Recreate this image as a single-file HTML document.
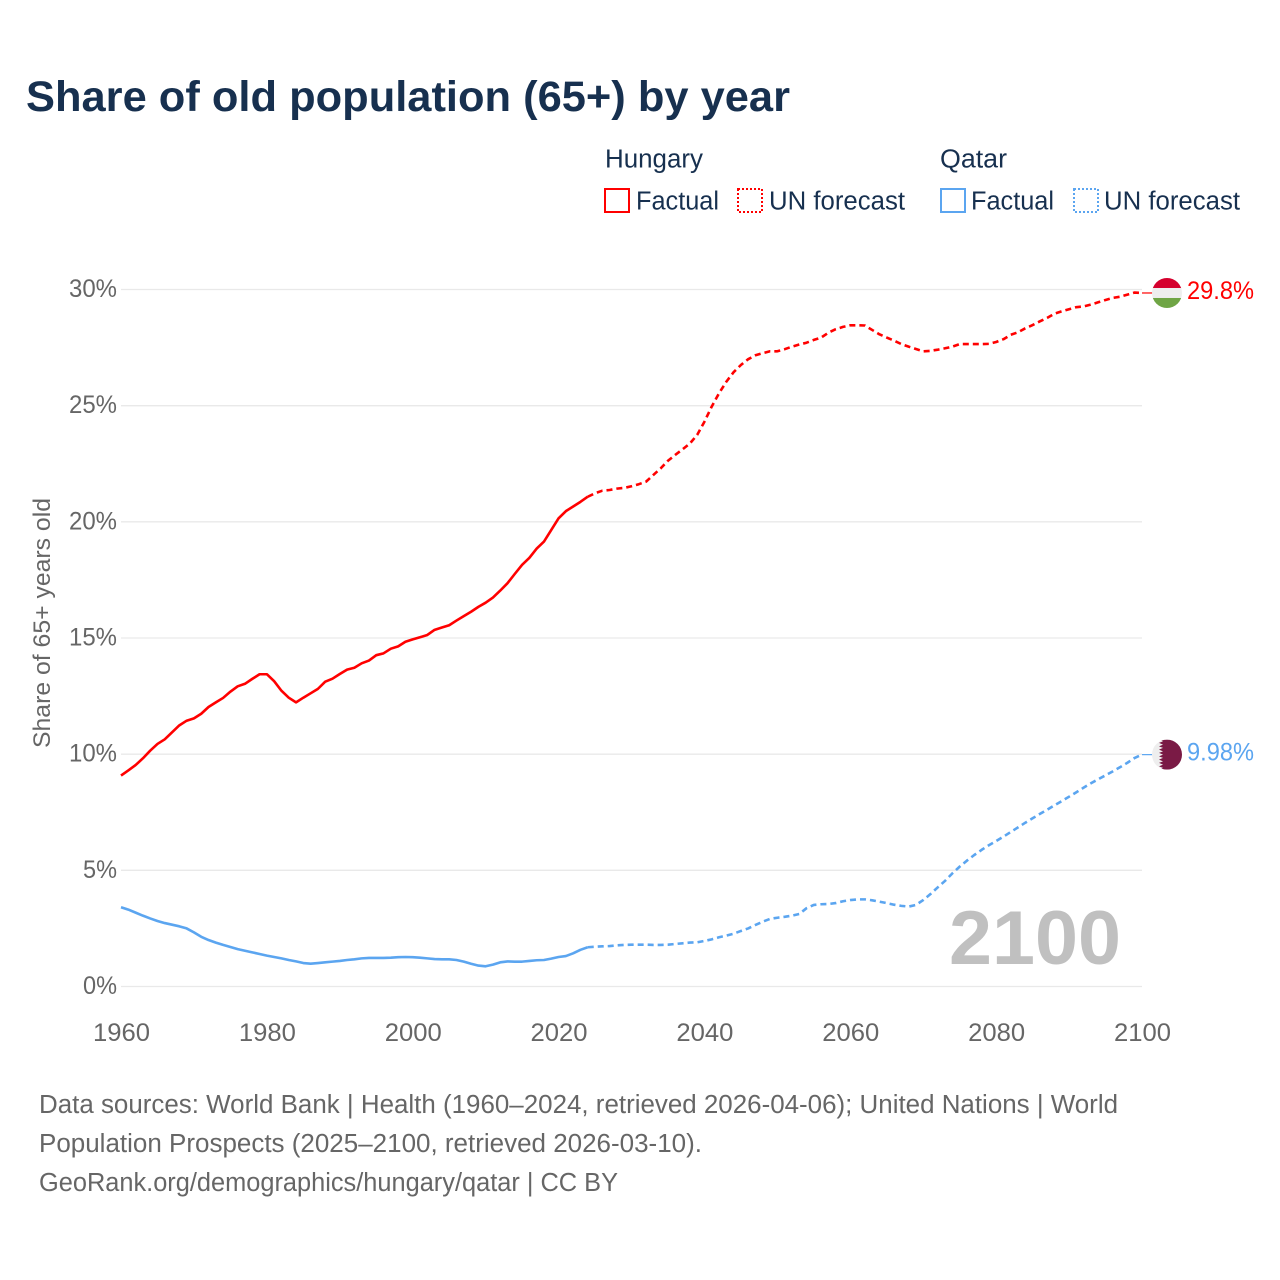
<!DOCTYPE html>
<html lang="en">
<head>
<meta charset="utf-8">
<title>Share of old population (65+) by year</title>
<style>
html,body{margin:0;padding:0;background:#fff;width:1280px;height:1280px;overflow:hidden}
svg{display:block}
text{font-family:"Liberation Sans",sans-serif}
.navy{fill:#17304f}
.gray{fill:#666666}
</style>
</head>
<body>
<svg id="chart" xmlns="http://www.w3.org/2000/svg" width="1280" height="1280" viewBox="0 0 1280 1280">
  <rect x="0" y="0" width="1280" height="1280" fill="#ffffff"/>
  <text class="navy" x="26" y="111" font-size="43" font-weight="700" textLength="764" lengthAdjust="spacingAndGlyphs">Share of old population (65+) by year</text>

  <g>
    <text class="navy" x="605" y="167.5" font-size="25.5" textLength="98" lengthAdjust="spacingAndGlyphs">Hungary</text>
    <rect x="605" y="189" width="24" height="23" fill="none" stroke="#ff0000" stroke-width="2"/>
    <text class="navy" x="636" y="209.5" font-size="25.5" textLength="83" lengthAdjust="spacingAndGlyphs">Factual</text>
    <rect x="738" y="189" width="24" height="23" fill="none" stroke="#ff0000" stroke-width="2" stroke-dasharray="2 2"/>
    <text class="navy" x="769" y="209.5" font-size="25.5" textLength="136" lengthAdjust="spacingAndGlyphs">UN forecast</text>

    <text class="navy" x="940" y="167.5" font-size="25.5" textLength="67" lengthAdjust="spacingAndGlyphs">Qatar</text>
    <rect x="941" y="189" width="24" height="23" fill="none" stroke="#5ba5f0" stroke-width="2"/>
    <text class="navy" x="971" y="209.5" font-size="25.5" textLength="83" lengthAdjust="spacingAndGlyphs">Factual</text>
    <rect x="1074" y="189" width="24" height="23" fill="none" stroke="#5ba5f0" stroke-width="2" stroke-dasharray="2 2"/>
    <text class="navy" x="1104" y="209.5" font-size="25.5" textLength="136" lengthAdjust="spacingAndGlyphs">UN forecast</text>
  </g>

  <g id="grid"></g>
  <g id="yticks"></g>
  <g id="xticks"></g>
  <text class="gray" transform="translate(50 748) rotate(-90)" x="0" y="0" font-size="24.5" textLength="250" lengthAdjust="spacingAndGlyphs">Share of 65+ years old</text>

  <text x="949" y="964" font-size="76" font-weight="700" fill="#c0c0c0" textLength="172" lengthAdjust="spacingAndGlyphs">2100</text>

  <g id="series"></g>

  <defs>
    <clipPath id="flag-hu-clip"><circle cx="0" cy="0" r="15"/></clipPath>
    <clipPath id="flag-qa-clip"><circle cx="0" cy="0" r="15"/></clipPath>
  </defs>
  <g id="flag-hungary" clip-path="url(#flag-hu-clip)">
    <rect x="-15" y="-15" width="30" height="10.2" fill="#d5002d"/>
    <rect x="-15" y="-5" width="30" height="10" fill="#eeeeee"/>
    <rect x="-15" y="5" width="30" height="10" fill="#6fa545"/>
  </g>
  <g id="flag-qatar" clip-path="url(#flag-qa-clip)">
    <rect x="-15" y="-15" width="30" height="30" fill="#eeeeee"/>
    <polygon fill="#7a1a45" points="15,-15 -8,-15 -4,-13.3 -8,-11.7 -4,-10 -8,-8.3 -4,-6.7 -8,-5 -4,-3.3 -8,-1.7 -4,0 -8,1.7 -4,3.3 -8,5 -4,6.7 -8,8.3 -4,10 -8,11.7 -4,13.3 -8,15 15,15"/>
  </g>
  <text id="label-hungary" x="1187" font-size="25" fill="#ff0000" textLength="67" lengthAdjust="spacingAndGlyphs"></text>
  <text id="label-qatar" x="1187" font-size="25" fill="#5ba5f0" textLength="67" lengthAdjust="spacingAndGlyphs"></text>

  <g>
    <text class="gray" x="39" y="1113" font-size="25.5" textLength="1079" lengthAdjust="spacingAndGlyphs">Data sources: World Bank | Health (1960–2024, retrieved 2026-04-06); United Nations | World</text>
    <text class="gray" x="39" y="1152" font-size="25.5" textLength="663" lengthAdjust="spacingAndGlyphs">Population Prospects (2025–2100, retrieved 2026-03-10).</text>
    <text class="gray" x="39" y="1191" font-size="25.5" textLength="579" lengthAdjust="spacingAndGlyphs">GeoRank.org/demographics/hungary/qatar | CC BY</text>
  </g>
</svg>
<script>
var factualStartYear = 1960;
var forecastStartYear = 2024;
var yTickValues = [0, 5, 10, 15, 20, 25, 30];
var xTickValues = [1960, 1980, 2000, 2020, 2040, 2060, 2080, 2100];

var hungaryFactual = [9.08,9.3,9.53,9.82,10.15,10.44,10.64,10.94,11.24,11.44,11.54,11.74,12.03,12.23,12.42,12.69,12.92,13.03,13.24,13.44,13.44,13.14,12.73,12.43,12.23,12.43,12.62,12.81,13.12,13.25,13.45,13.64,13.72,13.91,14.03,14.26,14.34,14.54,14.64,14.84,14.94,15.03,15.13,15.35,15.45,15.55,15.75,15.94,16.13,16.34,16.52,16.74,17.04,17.36,17.76,18.15,18.45,18.85,19.15,19.65,20.15,20.46,20.66,20.86,21.08];
var hungaryForecast = [21.08,21.23,21.34,21.37,21.43,21.46,21.53,21.62,21.73,22.02,22.3,22.63,22.88,23.12,23.37,23.74,24.31,24.96,25.53,26.03,26.44,26.75,27.0,27.17,27.26,27.34,27.34,27.43,27.54,27.63,27.71,27.83,27.93,28.14,28.29,28.39,28.46,28.46,28.45,28.26,28.07,27.93,27.8,27.65,27.54,27.44,27.34,27.36,27.41,27.47,27.54,27.65,27.65,27.65,27.65,27.66,27.74,27.86,28.05,28.16,28.33,28.47,28.63,28.78,28.96,29.06,29.15,29.24,29.27,29.35,29.45,29.55,29.64,29.69,29.78,29.87,29.85];
var qatarFactual = [3.41,3.31,3.18,3.05,2.93,2.82,2.73,2.66,2.59,2.5,2.33,2.14,2.0,1.89,1.79,1.7,1.61,1.54,1.47,1.4,1.33,1.27,1.21,1.14,1.08,1.01,0.98,1.01,1.04,1.07,1.1,1.14,1.17,1.21,1.23,1.23,1.23,1.24,1.26,1.27,1.26,1.24,1.21,1.18,1.17,1.17,1.14,1.07,0.98,0.9,0.87,0.94,1.04,1.08,1.07,1.07,1.1,1.13,1.14,1.2,1.27,1.31,1.43,1.58,1.69];
var qatarForecast = [1.69,1.71,1.73,1.74,1.77,1.79,1.8,1.8,1.8,1.79,1.79,1.8,1.83,1.86,1.89,1.9,1.96,2.03,2.12,2.19,2.27,2.39,2.5,2.65,2.79,2.91,2.96,3.0,3.05,3.12,3.37,3.51,3.54,3.55,3.59,3.67,3.72,3.75,3.75,3.71,3.65,3.59,3.52,3.47,3.44,3.51,3.72,3.98,4.27,4.55,4.87,5.16,5.42,5.66,5.88,6.08,6.26,6.45,6.65,6.85,7.05,7.24,7.43,7.61,7.8,7.98,8.17,8.36,8.56,8.75,8.92,9.09,9.26,9.44,9.63,9.84,9.98];
var endLabels = ["29.8%", "9.98%"];

var NS = "http://www.w3.org/2000/svg";
function xScale(year) { return 121 + (year - 1960) * (1142 - 121) / 140; }
function yScale(v) { return 986.5 - v * (986.5 - 289.5) / 30; }
function pointsFor(values, startYear) {
  return values.map(function (v, i) {
    return xScale(startYear + i).toFixed(2) + "," + yScale(v).toFixed(2);
  }).join(" ");
}

var grid = document.getElementById("grid");
var yticks = document.getElementById("yticks");
var xticks = document.getElementById("xticks");
var series = document.getElementById("series");

yTickValues.forEach(function (v) {
  var line = document.createElementNS(NS, "line");
  
  
  line.setAttribute("x1", xScale(1960));
  line.setAttribute("x2", xScale(2100));
  line.setAttribute("y1", yScale(v));
  line.setAttribute("y2", yScale(v));
  line.setAttribute("stroke", "#e9e9e9");
  line.setAttribute("stroke-width", "1.3");
  grid.appendChild(line);

  var t = document.createElementNS(NS, "text");
  
  
  t.setAttribute("class", "gray");
  t.setAttribute("x", 117);
  t.setAttribute("y", yScale(v) + 7.5);
  t.setAttribute("text-anchor", "end");
  t.setAttribute("font-size", "25");
  t.setAttribute("textLength", v >= 10 ? 48 : 34);
  t.setAttribute("lengthAdjust", "spacingAndGlyphs");
  t.textContent = v + "%";
  yticks.appendChild(t);
});

xTickValues.forEach(function (year) {
  var t = document.createElementNS(NS, "text");
  
  
  t.setAttribute("class", "gray");
  t.setAttribute("x", xScale(year) + 0.5);
  t.setAttribute("y", 1041);
  t.setAttribute("text-anchor", "middle");
  t.setAttribute("font-size", "25");
  t.setAttribute("textLength", 57);
  t.setAttribute("lengthAdjust", "spacingAndGlyphs");
  t.textContent = year;
  xticks.appendChild(t);
});

function addLine(values, startYear, color, dashed, name) {
  var p = document.createElementNS(NS, "polyline");
  
  
  p.setAttribute("points", pointsFor(values, startYear));
  p.setAttribute("fill", "none");
  p.setAttribute("stroke", color);
  p.setAttribute("stroke-width", "2.6");
  p.setAttribute("stroke-linejoin", "round");
  if (dashed) { p.setAttribute("stroke-dasharray", "6 4"); }
  series.appendChild(p);
}
function addLeader(lastValue, color, name) {
  var l = document.createElementNS(NS, "line");
  
  
  l.setAttribute("x1", xScale(2100));
  l.setAttribute("x2", xScale(2100) + 11);
  l.setAttribute("y1", yScale(lastValue));
  l.setAttribute("y2", yScale(lastValue));
  l.setAttribute("stroke", color);
  l.setAttribute("stroke-width", "1.2");
  series.appendChild(l);
}
addLine(hungaryFactual, factualStartYear, "#ff0000", false, "hungary-factual-line");
addLine(hungaryForecast, forecastStartYear, "#ff0000", true, "hungary-forecast-line");
addLine(qatarFactual, factualStartYear, "#5ba5f0", false, "qatar-factual-line");
addLine(qatarForecast, forecastStartYear, "#5ba5f0", true, "qatar-forecast-line");

var huLast = hungaryForecast[hungaryForecast.length - 1];
var qaLast = qatarForecast[qatarForecast.length - 1];
addLeader(huLast, "#ff0000", "hungary-end-leader");
addLeader(qaLast, "#5ba5f0", "qatar-end-leader");

document.getElementById("flag-hungary").setAttribute("transform", "translate(1167 " + yScale(huLast).toFixed(2) + ")");
document.getElementById("flag-qatar").setAttribute("transform", "translate(1167 " + yScale(qaLast).toFixed(2) + ")");

var lh = document.getElementById("label-hungary");
lh.setAttribute("y", yScale(huLast) + 6);
lh.textContent = endLabels[0];
var lq = document.getElementById("label-qatar");
lq.setAttribute("y", yScale(qaLast) + 6);
lq.textContent = endLabels[1];
</script>
</body>
</html>
